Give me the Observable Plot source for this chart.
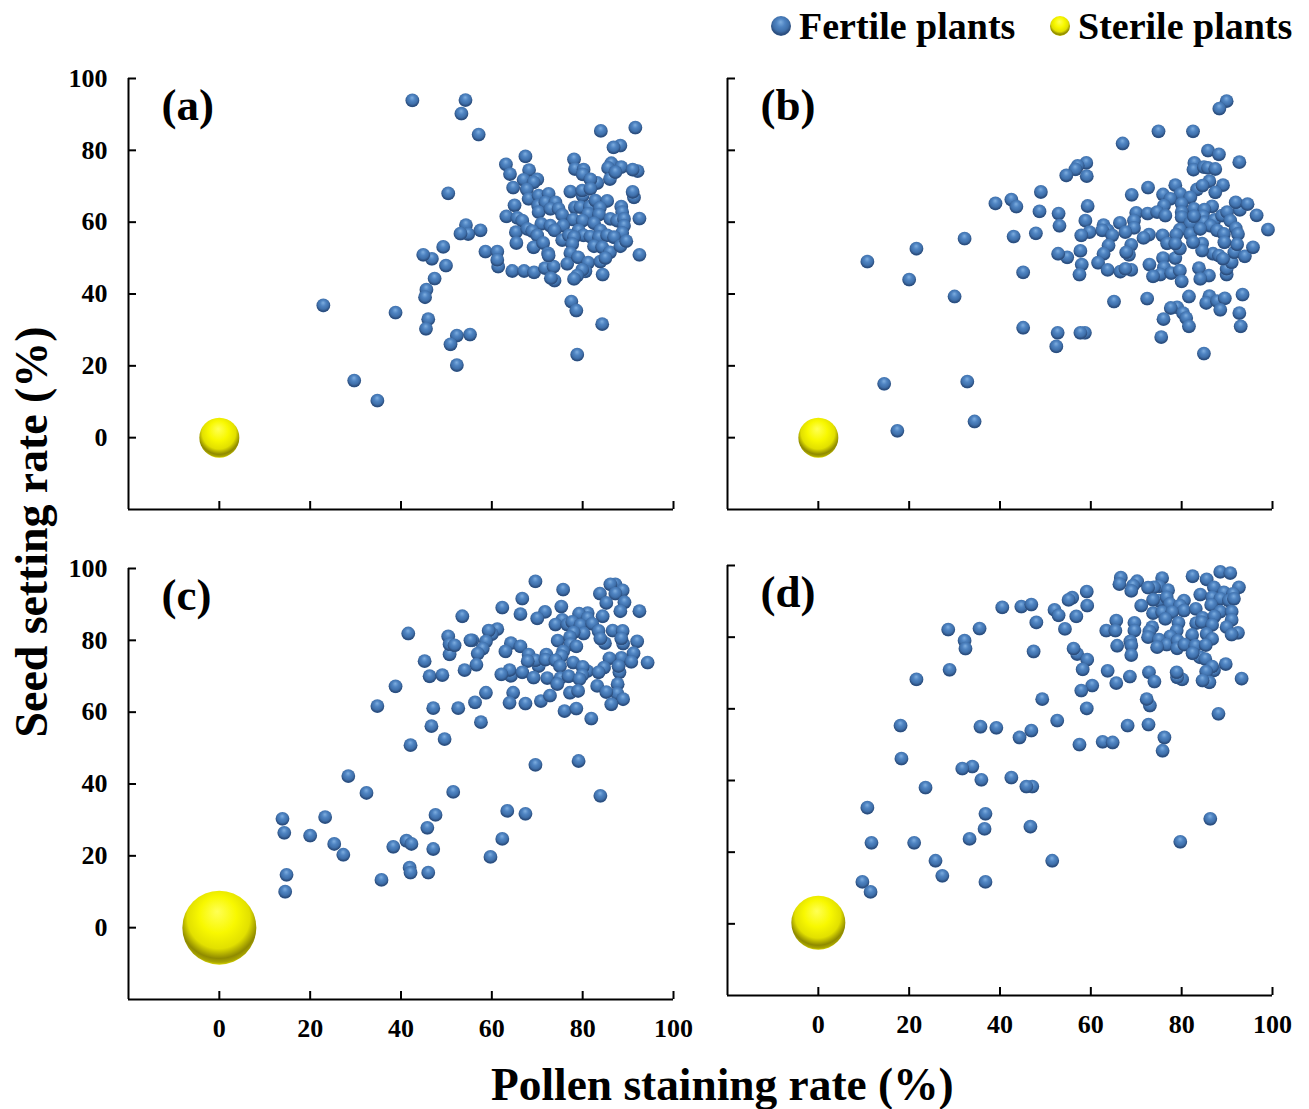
<!DOCTYPE html>
<html><head><meta charset="utf-8">
<script src="https://cdn.jsdelivr.net/npm/d3@7"></script>
<script src="https://cdn.jsdelivr.net/npm/@observablehq/plot@0.6"></script>
<style>
html,body{margin:0;padding:0;background:#fff}
#root{position:relative;width:1309px;height:1109px;overflow:hidden;font-family:"Liberation Serif",serif;font-weight:bold;color:#000}
#root>svg.p,#root>figure{position:absolute;margin:0}
.t{position:absolute;white-space:nowrap;line-height:1}
</style></head><body>
<svg width="0" height="0" style="position:absolute">
<defs>
<radialGradient id="blueBall" cx="50%" cy="42%" r="60%" fx="48%" fy="30%">
<stop offset="0%" stop-color="#7eaee0"/><stop offset="35%" stop-color="#4f84c2"/><stop offset="65%" stop-color="#3f70ab"/><stop offset="86%" stop-color="#2b4d7d"/><stop offset="93%" stop-color="#2f5485"/><stop offset="100%" stop-color="#7ea2cc"/>
</radialGradient>
<radialGradient id="yellowBall" cx="50%" cy="40%" r="62%" fx="47%" fy="28%">
<stop offset="0%" stop-color="#ffff55"/><stop offset="40%" stop-color="#f8f800"/><stop offset="68%" stop-color="#e2e000"/><stop offset="86%" stop-color="#8f8a00"/><stop offset="93%" stop-color="#a8a400"/><stop offset="100%" stop-color="#f6f400"/>
</radialGradient>
</defs></svg>
<div id="root">
<svg class="p" width="1309" height="50" style="left:0;top:0">
<circle cx="781" cy="26" r="10" fill="url(#blueBall)"/><circle cx="1060" cy="26" r="10" fill="url(#yellowBall)"/>
</svg>
<div class="t" style="left:799px;top:7px;font-size:38px">Fertile plants</div>
<div class="t" style="left:1078px;top:7px;font-size:38px">Sterile plants</div>
<div class="t" style="left:491px;top:1063px;font-size:45.4px">Pollen staining rate (%)</div>
<div class="t" id="yt" style="left:32px;top:532px;font-size:45.8px;transform:translate(-50%,-50%) rotate(-90deg)">Seed setting rate (%)</div>
</div>
<script>
const panelA = [[54.2,94],[53.3,90.2],[42.5,93.9],[57.1,84.4],[84,85.4],[91.6,86.3],[88.3,81.3],[86.8,80.8],[67.4,78.3],[63.1,76.1],[64,73.4],[68.2,74.5],[78.1,77.5],[78.3,74.8],[80.2,74.6],[80,73.3],[86.3,76.4],[85.6,75.1],[88.5,75.3],[92.1,74.2],[91,74.6],[86,72],[87.2,73.9],[67,71.8],[64.7,69.6],[70,71.9],[69.2,71.1],[67.7,69.1],[68.1,66.5],[70.3,67.4],[72.5,67.9],[77.3,68.5],[80,67.4],[79.9,68.8],[83.2,70.9],[81.7,71.9],[81.7,69.3],[50.4,68],[91.3,66.9],[91,68.4],[65,64.7],[70.2,64.6],[71.8,65.5],[74,65.5],[70.3,62.8],[72.9,63.7],[74.7,63.7],[75.5,62],[78.3,64.1],[79.5,64.2],[81.6,64.3],[82.8,66],[85.4,65.9],[83.8,64],[88.5,64.3],[88.7,62.8],[81.2,62.3],[83.6,62.1],[63.2,61.6],[65.6,61.2],[66.7,60.4],[92.5,61],[77.9,60.7],[80,60.4],[82.5,59.7],[86.1,60.9],[87.6,60.4],[89.1,60.9],[89.1,59],[70.9,59.5],[72.9,59],[75.7,59],[65.3,57.2],[67.8,58.1],[68.9,57.5],[70,56.3],[73.8,57.7],[79.1,57.7],[83.9,57.7],[88.7,57],[80.2,56.3],[81.7,56],[83.6,55.8],[85.4,56.3],[86.9,55.8],[75.5,55],[77,56.3],[78.1,55.8],[77.7,53.9],[65.4,54.2],[69.2,53],[71.3,54.2],[82.5,53.3],[84.3,53],[86,51.6],[88.3,53.3],[89.6,54.7],[54.3,59.2],[54.8,56.7],[53.1,56.8],[57.5,57.7],[49.3,53.1],[58.6,51.8],[61.2,51.8],[72.4,51.3],[77.3,51.4],[92.5,50.9],[46.8,49.8],[44.9,50.9],[49.9,47.9],[47.4,44.3],[45.6,41.2],[45.3,39.1],[46,33],[45.5,30.3],[52.3,28.4],[55.2,28.7],[50.9,26],[52.3,20.2],[78.8,23.1],[84.3,31.6],[77.5,37.9],[78.6,35.4],[61.4,47.6],[61.2,49.5],[64.5,46.4],[67.1,46.4],[69.3,46],[71.7,47.2],[73.6,47.6],[73.8,43.7],[73,44.4],[72.5,50.7],[76.6,48.4],[79,50.2],[81.2,48.7],[80.6,46.3],[79.9,46.7],[78.8,45.1],[78.1,44.2],[83.9,49],[85,50],[84.4,45.4],[22.9,36.8],[29.7,15.9],[34.8,10.3],[38.8,34.8]];
const panelB = [[89.9,93.7],[88.3,91.6],[74.9,85.3],[82.5,85.3],[67,81.9],[85.8,79.9],[88.2,78.9],[92.7,76.7],[82.8,76.5],[82.6,74.6],[84.9,75.3],[85.8,75.1],[87.4,74.8],[59,76.5],[57.1,75.7],[56.6,74.7],[54.6,73],[59.1,72.8],[86.1,71.4],[89.1,70.3],[87.4,68.3],[78.6,70.3],[83.4,69.1],[84.6,70.2],[72.6,69.6],[69,67.6],[49,68.4],[75.9,67.7],[79.7,67.9],[81.9,66.9],[77.5,66.5],[76.1,64.6],[80,65.1],[82.7,63.7],[86.7,64.4],[85,63.5],[92.8,63.4],[91.9,65.5],[94.5,65],[96.5,61.9],[99,57.9],[59.3,64.5],[48.7,63],[52.9,62.4],[53.1,59],[47.9,56.9],[58.8,60.4],[59.7,57.2],[57.9,56.3],[70,62.6],[72.5,62.4],[74.6,62.8],[76.4,61.8],[69.5,60.4],[69.5,58.4],[66.4,59.8],[67.6,57.2],[62.8,59.2],[63.7,57.7],[62.5,57.7],[64.7,56.3],[80,62.8],[80,61.4],[81.9,59.7],[84.7,61.6],[84.9,60],[82.7,61.6],[87.2,60.6],[88.9,61.8],[90,62.8],[90.7,60.4],[86.3,59],[91.9,58.3],[92.4,56.7],[87.8,57.7],[89.3,56.7],[79.6,57.9],[78.8,56.5],[81.9,56.7],[84.1,58.1],[75.8,56.3],[72.8,56.5],[71.6,55.6],[63.9,53.5],[62.8,51.2],[61.6,48.7],[63.7,46.7],[66.5,46.2],[68.9,46.7],[67.6,47],[68.9,53.7],[68.4,50.9],[67.8,51.6],[57.7,52],[54.8,50.2],[52.8,51.2],[58,48.2],[57.5,45.4],[45.1,46],[72.9,48.2],[75.9,50],[78.6,50],[79.6,52.6],[76.1,47.4],[75.3,45.4],[73.7,44.9],[77.7,45.8],[79.6,46.5],[80,43.5],[83.8,47.2],[86,45.1],[84.1,44.2],[89.9,45.4],[89.9,47],[91,48.8],[91.6,51.6],[92.2,53.8],[93.9,50.5],[95.7,53],[86.9,51.2],[88.2,50.7],[89.1,49.8],[84.5,54],[84.5,52.1],[82.5,54.4],[89.4,54.4],[76.8,54.1],[78.6,54],[81.6,39.3],[86.1,39.4],[85.4,37.5],[87.8,38],[89.5,38.8],[88.5,35.6],[93.4,39.8],[92.7,34.7],[93,31],[72.4,38.7],[65.1,37.9],[79,36.3],[77.6,36.1],[80.3,34.7],[81,33.3],[81.6,31],[76,33],[75.5,28],[84.9,23.4],[45.1,30.6],[52.7,29.2],[52.4,25.4],[58.7,29.2],[57.7,29.2],[10.8,49],[20,44],[21.6,52.6],[30,39.3],[32.2,55.4],[14.5,15],[17.4,1.9],[32.8,15.6],[34.4,4.5],[39,65.2],[42.5,66.3],[43.6,64.3],[43,56]];
const panelC = [[69.6,96.4],[75.7,94.1],[87.2,95.6],[86.1,95.6],[83.8,93],[88.8,93.9],[87.2,93],[85.2,90.4],[89.2,90.6],[66.7,91.6],[62.3,89.1],[66.3,87.3],[71.7,87.9],[75.3,89.4],[70,86.1],[88.3,88.1],[92.5,88.1],[84.4,86.7],[81.1,87.6],[79.2,87.4],[81.1,86.2],[75.5,85.7],[74,84.4],[76.6,84.4],[77.7,85.1],[79.5,84.2],[82.1,84.6],[61.2,83.1],[60,81.7],[59.3,82.7],[55.7,80],[58.7,79.7],[58,77.7],[56.9,76.3],[56.6,73.2],[83.5,82.6],[86.6,82.7],[88.8,82.6],[80.2,81.9],[78,82.2],[88.9,79.1],[88.5,80.5],[84.9,79.2],[83.9,80.5],[92,79.7],[74.5,79.9],[77.2,80.9],[77.3,78.9],[78.6,78.3],[64.2,79.2],[63,76.9],[66.3,78.3],[68.1,76],[72,76],[75.7,76.9],[75.3,75.6],[91.2,76.4],[88.5,75.1],[85.9,75],[90.7,74],[94.3,73.8],[70.3,72.8],[69.6,74.4],[67.9,74.2],[71.8,74.6],[74,74.4],[75,72.8],[77.9,73.8],[81,71.4],[80,72.6],[84.7,72.4],[83.5,71.1],[88.1,71.1],[87.9,72.8],[64.2,70.1],[63.9,71.7],[62.1,70.5],[66.7,71.1],[69.2,69.6],[72.2,69.5],[75.1,69.5],[74.4,67.8],[76.9,70],[79.9,70.3],[79.3,69.2],[83.2,67.3],[87.7,67.8],[87.6,65.2],[85.2,65.6],[88.9,63.6],[86.3,62.2],[58.7,65.4],[56.3,62.7],[57.6,57.2],[64.7,65.4],[63.9,62.6],[67.4,62.4],[70.8,63.1],[72.8,64.6],[77.2,65.4],[79,65.9],[76,60.3],[78.6,61],[81.9,58.2],[41.6,81.9],[45.2,74.2],[46.3,70],[49.1,70.3],[50.7,76.1],[50.4,81.1],[50.7,78.9],[51.8,78.6],[53.5,86.7],[54,71.7],[55.3,80],[52.6,61.1],[47.1,61.1],[46.7,56.1],[49.6,52.5],[42.1,50.8],[34.8,61.7],[38.8,67.2],[28.4,42.2],[32.4,37.5],[51.5,37.8],[69.6,45.3],[79.1,46.4],[83.9,36.7],[13.9,30.3],[14.3,26.4],[14.8,14.7],[14.5,10],[20,25.6],[23.3,30.8],[25.3,23.3],[27.3,20.3],[35.7,13.3],[38.3,22.5],[41.2,24.2],[42.3,23.3],[41.9,16.7],[42.1,15.3],[46,15.3],[47.1,21.9],[45.8,27.8],[47.6,31.4],[59.7,19.7],[62.3,24.7],[63.4,32.5],[67.4,31.7]];
const panelD = [[88.5,98.2],[90.7,97.9],[82.4,97],[85.5,96.1],[75.7,96.5],[66.6,96.6],[66.3,94.8],[70.2,95.6],[69.3,94.4],[68.9,92.9],[75,94.2],[73.9,93.9],[72.6,93.8],[77,93.1],[59.1,92.7],[55.9,91],[55.1,90.4],[59.2,88.8],[52,87.6],[52.9,86.1],[56.8,85.8],[54.3,82.3],[87.1,93.9],[89.3,92.5],[92.6,93.9],[91.3,92.1],[84.1,91.9],[86.7,91.1],[88.5,90.7],[90.4,90.2],[91.5,90.7],[86.5,89],[75,90.2],[73.7,90.4],[76.7,91.1],[71.1,88.8],[77.4,89.3],[80.5,90.2],[79.6,88.8],[80.5,87.4],[83.1,87.9],[88.5,87.1],[91,87.1],[91,84.8],[73.7,86.7],[75.7,87],[77.9,87],[76.4,85.1],[84.6,85.4],[87.2,85.8],[83.2,83.9],[84.4,84.2],[86.7,83.4],[89.9,82.8],[92.4,81.2],[91,80.7],[85.5,80.9],[82.3,80.6],[86.7,79.5],[79.3,84],[78.9,81.8],[65.6,84.6],[69.6,84],[63.4,81.8],[65.4,81.8],[69.6,81.8],[73.5,82.8],[72.9,81.6],[72.6,80],[77.5,80.2],[75,79.3],[76.7,77.9],[74.6,77.2],[79.1,79],[79,76.9],[80.6,77.9],[83,77.6],[85.3,77.8],[84,74.4],[82.4,75.5],[85.2,73.9],[68.7,78.8],[68.9,77.7],[65.8,77.6],[68.9,75],[57,75.3],[56.2,76.8],[59.2,73.7],[58.2,71],[63.7,70.6],[68.6,69],[65.6,67.2],[60.3,66.5],[57.9,65.1],[72.8,70.2],[74,67.6],[80.1,68.2],[79,68.8],[78.9,70.2],[87.1,70.7],[86.7,71.8],[85.4,70.4],[86.1,67.4],[84.6,67.9],[89.7,72.5],[93.2,68.4],[49.3,62.7],[59.1,60.1],[73,60.9],[72.3,62.7],[88.1,58.6],[44.7,88.5],[40.5,88.3],[46.9,89.1],[48,84.1],[28.6,82.1],[32.2,79],[32.4,76.8],[35.5,82.4],[47.4,76],[28.9,70.9],[21.6,68.2],[18.1,55.3],[18.3,46.1],[23.6,38],[35.7,55],[39.2,54.7],[44.3,52],[46.9,53.9],[52.6,56.7],[57.5,50],[62.6,50.8],[64.8,50.6],[68.1,55.3],[72.7,55.6],[75.8,48.3],[76.2,52],[86.3,29.3],[79.7,22.9],[51.5,17.6],[46.7,27.1],[47.1,38.3],[45.8,38.3],[42.5,40.8],[35.9,40.2],[33.9,43.9],[31.7,43.3],[36.8,30.7],[36.6,26.5],[33.3,23.7],[36.8,11.7],[27.3,13.4],[25.8,17.6],[21.1,22.6],[11.7,22.6],[10.8,32.4],[9.7,11.7],[11.5,8.9]];
const sterile = {a:[0,0],b:[0,0],c:[0,0],d:[0,0.3]};
const tickValues = [0,20,40,60,80,100];
const panels = [
 {label:"(a)",pts:panelA,ster:sterile.a,r:20,left:128,top:78,h:431,showX:false,showY:true},
 {label:"(b)",pts:panelB,ster:sterile.b,r:20,left:727,top:78,h:431,showX:false,showY:false},
 {label:"(c)",pts:panelC,ster:sterile.c,r:37,left:128,top:568,h:431,showX:true,showY:true},
 {label:"(d)",pts:panelD,ster:sterile.d,r:27,left:727,top:565,h:430,showX:true,showY:false}
];
const ML=70,MR=30,MT=30,MB=50,W=545;
const root=document.getElementById("root");
for(const p of panels){
 const fig=Plot.plot({
  width:W+ML+MR,height:p.h+MT+MB,marginLeft:ML,marginRight:MR,marginTop:MT,marginBottom:MB,
  style:{background:"transparent",overflow:"visible",fontFamily:"Liberation Serif",fontWeight:"bold",fontSize:"26px",color:"#000"},
  x:{domain:[-20,100],label:null},
  y:{domain:[-20,100],label:null},
  marks:[
   Plot.ruleX([-20],{stroke:"#000",strokeWidth:2}),
   Plot.ruleY([-20],{stroke:"#000",strokeWidth:2}),
   Plot.axisX({ticks:tickValues,anchor:"bottom",tickSize:-8,tickPadding:27,strokeWidth:2,stroke:"#000",fill:"#000",
     tickFormat:p.showX?(d=>String(d)):(()=>""),label:null}),
   Plot.axisY({ticks:tickValues,anchor:"left",tickSize:-8,tickPadding:29,strokeWidth:2,stroke:"#000",fill:"#000",
     tickFormat:p.showY?(d=>String(d)):(()=>""),label:null}),
   Plot.dot(p.pts,{x:d=>d[0],y:d=>d[1],r:6.9,fill:"url(#blueBall)",stroke:null}),
   Plot.dot([p.ster],{x:d=>d[0],y:d=>d[1],r:p.r,fill:"url(#yellowBall)",stroke:null}),
   Plot.text([p.label],{frameAnchor:"top-left",dx:33,dy:10,textAnchor:"start",lineAnchor:"top",fontSize:45,fontWeight:"bold",fontFamily:"Liberation Serif",fill:"#000"})
  ]
 });
 fig.style.position="absolute";
 fig.style.left=(p.left-ML)+"px";
 fig.style.top=(p.top-MT)+"px";
 root.appendChild(fig);
}
</script>
</body></html>
